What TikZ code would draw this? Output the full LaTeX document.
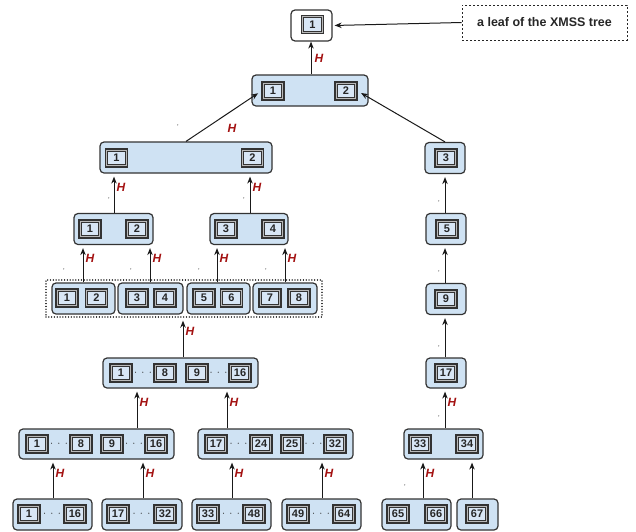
\documentclass[tikz,border=0pt]{standalone}
\usepackage{fontspec}
\setmainfont{Liberation Sans}
\usetikzlibrary{arrows.meta,calc}

\definecolor{boxfill}{HTML}{CFE2F3}
\definecolor{cellfill}{HTML}{D8E6F5}
\definecolor{edge}{HTML}{333333}
\definecolor{hred}{HTML}{A20F0F}

\tikzset{
  grp/.style={draw=edge, line width=1.2pt, rounded corners=4pt, fill=boxfill,
    minimum height=31pt, inner sep=0pt},
  cell/.style={draw=edge, line width=1.2pt, fill=gray!55,
    minimum width=22pt, minimum height=18pt, inner sep=0pt,
    path picture={\draw[edge, line width=0.8pt, fill=cellfill]
      ([shift={(2.2pt,-2.2pt)}]path picture bounding box.north west) rectangle
      ([shift={(-2.2pt,2.2pt)}]path picture bounding box.south east);},
    font=\bfseries\fontsize{11}{11}\selectfont, text=black!85},
  note/.style={draw=black!85, line width=0.8pt, dash pattern=on 2pt off 2pt,
    font=\bfseries\fontsize{12.5}{14}\selectfont, text=black!85, inner sep=0pt},
  grpframe/.style={draw=black!85, line width=1.4pt, dash pattern=on 0.01pt off 2.8pt,
    line cap=round, inner sep=0pt},
  arr/.style={-{Stealth[length=7pt,width=5.5pt]}, line width=1pt, draw=black!90},
  hlab/.style={text=hred, font=\bfseries\itshape\fontsize{12}{12}\selectfont, inner sep=0pt},
  tickmark/.style={font=\fontsize{7}{7}\selectfont, text=black!75, inner sep=0pt},
  gap/.style={font=\fontsize{11}{11}\selectfont, text=black!85, inner sep=0pt},
}

% vertical hash edge (with H label) and plain vertical edge at a given x
\newcommand\hashup[3]{%
  \path (#3,0) coordinate (ax);
  \draw[arr, shorten >=3pt] (#1.north -| ax) --
    node[hlab, pos=0.65, anchor=west, xshift=2pt] {H} (#2.south -| ax);}
\newcommand\plainup[3]{%
  \path (#3,0) coordinate (ax);
  \draw[arr, shorten >=3pt] (#1.north -| ax) -- (#2.south -| ax);}
% dots between two cells
\newcommand\skipdots[3]{%
  \node[gap] (#1) at ($(#2.east)!0.5!(#3.west)$) {$\cdot\,\cdot\,\cdot$};}

\begin{document}
\begin{tikzpicture}[x=1pt, y=-1pt]
\useasboundingbox (0,0) rectangle (636,531);

% ---- root leaf and its note
\node[grp, fill=white, minimum width=41pt] (leaf) at (311.5,25.5) {};
\node[cell] (c0) at (312.5,24.5) {1};
\node[note, minimum width=165pt, minimum height=35pt] (note) at (544.5,22.5) {a leaf of the XMSS tree};
\draw[arr, shorten >=2pt] (note.west) -- (leaf.east);

% ---- level 1
\node[grp, minimum width=116pt] (g1) at (310,90.5) {};
\node[cell] (c1a) at (273,91) {1};
\node[cell] (c1b) at (346,91) {2};
\path (311,0) coordinate (topx);
\draw[arr] (g1.north -| topx) -- node[hlab, pos=0.5, anchor=west, xshift=3pt] {H} (leaf.south -| topx);

% ---- level 2
\node[grp, minimum width=172pt] (g2a) at (186,157.5) {};
\node[cell] (c2a) at (116.5,158) {1};
\node[cell] (c2b) at (252.5,158) {2};
\node[grp, minimum width=40pt] (g2b) at (445,158) {};
\node[cell] (c2c) at (446,158) {3};
\draw[arr, shorten >=4pt] (g2a.north) -- (c1a.west);
\node[hlab] (h2) at (232,128) {H};
\node[tickmark] (t0) at (178,127) {'};
\draw[arr, shorten >=4pt] (g2b.north) -- (c1b.east);

% ---- level 3
\node[grp, minimum width=79pt] (g3a) at (113.5,229) {};
\node[cell] (c3a) at (90,229) {1};
\node[cell] (c3b) at (137,229) {2};
\node[grp, minimum width=78pt] (g3b) at (249,229) {};
\node[cell] (c3c) at (226,229) {3};
\node[cell] (c3d) at (273,229) {4};
\node[grp, minimum width=40pt] (g3c) at (446,229) {};
\node[cell] (c3e) at (447,229) {5};
\hashup{g3a}{g2a}{114}
\hashup{g3b}{g2a}{250}
\plainup{g3c}{g2b}{445}
\node[tickmark] (t1) at (109,200) {'};
\node[tickmark] (t2) at (244,200) {'};
\node[tickmark] (t3) at (439,203) {'};

% ---- level 4: the grouped pairs
\node[grpframe, minimum width=276pt, minimum height=37pt] (dotbox) at (184,298.5) {};
\node[grp, minimum width=63pt] (p1) at (83.5,298.5) {};
\node[grp, minimum width=65pt] (p2) at (150.5,298.5) {};
\node[grp, minimum width=63pt] (p3) at (218.5,298.5) {};
\node[grp, minimum width=64pt] (p4) at (285,298.5) {};
\node[cell] (c4a) at (67,298) {1};
\node[cell] (c4b) at (96.5,298) {2};
\node[cell] (c4c) at (137,298) {3};
\node[cell] (c4d) at (165,298) {4};
\node[cell] (c4e) at (204,298) {5};
\node[cell] (c4f) at (231.5,298) {6};
\node[cell] (c4g) at (270,298) {7};
\node[cell] (c4h) at (299,298) {8};
\node[grp, minimum width=40pt] (g4c) at (446,299) {};
\node[cell] (c4i) at (446,299) {9};
\hashup{p1}{g3a}{83}
\hashup{p2}{g3a}{150}
\hashup{p3}{g3b}{217}
\hashup{p4}{g3b}{285}
\plainup{g4c}{g3c}{445}
\node[tickmark] (t4) at (64,271) {'};
\node[tickmark] (t5) at (131,271) {'};
\node[tickmark] (t6) at (199,271) {'};
\node[tickmark] (t7) at (266,271) {'};
\node[tickmark] (t8) at (439,273) {'};

% ---- level 5
\node[grp, minimum width=155pt, minimum height=30pt] (g5) at (180.5,373) {};
\node[cell] (c5a) at (121,373) {1};
\node[cell] (c5b) at (165,373) {8};
\node[cell] (c5c) at (197,373) {9};
\node[cell] (c5d) at (240,373) {16};
\skipdots{d5a}{c5a}{c5b}
\skipdots{d5b}{c5c}{c5d}
\node[grp, minimum width=40pt, minimum height=30pt] (g5c) at (446,373) {};
\node[cell] (c5e) at (446,373) {17};
\hashup{g5}{dotbox}{183}
\plainup{g5c}{g4c}{445}
\node[tickmark] (t9) at (439,348) {'};

% ---- level 6
\node[grp, minimum width=155pt, minimum height=30pt] (g6a) at (96.5,444) {};
\node[cell] (c6a) at (37,444) {1};
\node[cell] (c6b) at (81,444) {8};
\node[cell] (c6c) at (112,444) {9};
\node[cell] (c6d) at (156,444) {16};
\skipdots{d6a}{c6a}{c6b}
\skipdots{d6b}{c6c}{c6d}
\node[grp, minimum width=155pt, minimum height=30pt] (g6b) at (275.5,444) {};
\node[cell] (c6e) at (216,444) {17};
\node[cell] (c6f) at (261,444) {24};
\node[cell] (c6g) at (292,444) {25};
\node[cell] (c6h) at (335,444) {32};
\skipdots{d6c}{c6e}{c6f}
\skipdots{d6d}{c6g}{c6h}
\node[grp, minimum width=79pt, minimum height=30pt] (g6c) at (443.5,444) {};
\node[cell] (c6i) at (420,444) {33};
\node[cell] (c6j) at (467,444) {34};
\hashup{g6a}{g5}{137}
\hashup{g6b}{g5}{227}
\hashup{g6c}{g5c}{445}
\node[tickmark] (t10) at (439,418) {'};

% ---- level 7 (bottom)
\node[grp, minimum width=79pt] (b1) at (52.5,514.5) {};
\node[grp, minimum width=80pt] (b2) at (142,514.5) {};
\node[grp, minimum width=79pt] (b3) at (231.5,514.5) {};
\node[grp, minimum width=79pt] (b4) at (321.5,514.5) {};
\node[grp, minimum width=69pt] (b5) at (416.5,514.5) {};
\node[grp, minimum width=41pt] (b6) at (477.5,514.5) {};
\node[cell] (c7a) at (29,514) {1};
\node[cell] (c7b) at (75,514) {16};
\node[cell] (c7c) at (118,514) {17};
\node[cell] (c7d) at (165,514) {32};
\node[cell] (c7e) at (208,514) {33};
\node[cell] (c7f) at (254,514) {48};
\node[cell] (c7g) at (298,514) {49};
\node[cell] (c7h) at (344,514) {64};
\node[cell] (c7i) at (398,514) {65};
\node[cell] (c7j) at (436,514) {66};
\node[cell] (c7k) at (477,514) {67};
\skipdots{d7a}{c7a}{c7b}
\skipdots{d7b}{c7c}{c7d}
\skipdots{d7c}{c7e}{c7f}
\skipdots{d7d}{c7g}{c7h}
\hashup{b1}{g6a}{53}
\hashup{b2}{g6a}{143}
\hashup{b3}{g6b}{232}
\hashup{b4}{g6b}{322}
\hashup{b5}{g6c}{423}
\plainup{b6}{g6c}{472}
\node[tickmark] (t11) at (405,487) {'};

\end{tikzpicture}
\end{document}
